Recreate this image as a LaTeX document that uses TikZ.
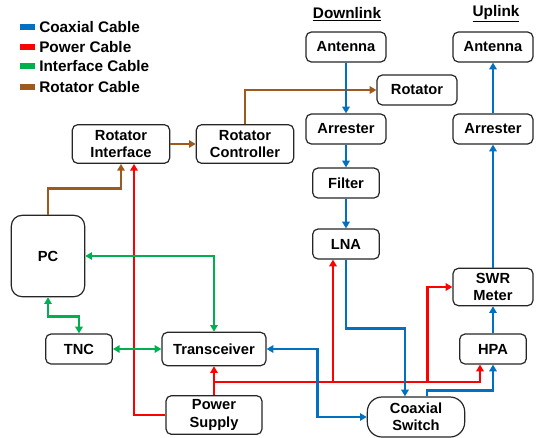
\documentclass[tikz,border=0pt]{standalone}
\usepackage{fontspec}
\setmainfont{Liberation Sans}
\usetikzlibrary{arrows.meta,positioning,calc}
\definecolor{coaxc}{RGB}{0,112,192}
\definecolor{powc}{RGB}{255,0,0}
\definecolor{ifc}{RGB}{0,176,80}
\definecolor{rotc}{RGB}{158,90,30}
\tikzset{
  blk/.style={draw=black!85, line width=0.9pt, rounded corners=4pt, fill=white,
    font=\bfseries\fontsize{11}{13}\selectfont, align=center,
    minimum height=22.5pt, inner sep=2pt},
  cable/.style={line width=1.9pt},
  >={Triangle[length=5pt,width=5.5pt]}
}

\begin{document}
\begin{tikzpicture}[x=0.75pt,y=-0.75pt]
\useasboundingbox (0,0) rectangle (539,437);
% Legend
\foreach \i/\y/\c/\t in {1/27/coaxc/Coaxial Cable,2/47/powc/Power Cable,3/66/ifc/Interface Cable,4/87/rotc/Rotator Cable} {
  \fill[\c] (20,\y-3) rectangle (35,\y+3);
  \node[font=\bfseries\fontsize{11.5}{13}\selectfont, anchor=west, inner sep=0pt] (leg\i) at (39,\y) {\t};
}
% Headings
\node[font=\bfseries\fontsize{11.5}{13}\selectfont] (hdl) at (347,14) {\underline{Downlink}};
\node[font=\bfseries\fontsize{11.5}{13}\selectfont] (hul) at (496,14) {\underline{Uplink}};
% Downlink chain
\node[blk, minimum width=60pt] (dant) at (346,47) {Antenna};
\node[blk, minimum width=60pt] (rot) at (417,90) {Rotator};
\node[blk, minimum width=60pt] (darr) at (346,129) {Arrester};
\node[blk, minimum width=50pt] (filt) at (346,183) {Filter};
\node[blk, minimum width=50pt] (lna) at (346,244) {LNA};
% Uplink chain
\node[blk, minimum width=60pt] (uant) at (493,47) {Antenna};
\node[blk, minimum width=60pt] (uarr) at (493,129) {Arrester};
\node[blk, minimum width=60pt, minimum height=28pt] (swr) at (493,287) {SWR\\Meter};
\node[blk, minimum width=50pt] (hpa) at (493,349) {HPA};
\node[blk, minimum width=73pt, minimum height=30pt, rounded corners=11pt] (csw) at (416,417) {Coaxial\\Switch};
% Station side
\node[blk, minimum width=73pt, minimum height=29pt] (rif) at (121,144) {Rotator\\Interface};
\node[blk, minimum width=73pt, minimum height=29pt] (rctl) at (245,144) {Rotator\\Controller};
\node[blk, minimum width=55pt, minimum height=61pt, rounded corners=8pt] (pc) at (48,256) {PC};
\node[blk, minimum width=50pt] (tnc) at (79,349) {TNC};
\node[blk, minimum width=78pt, minimum height=25pt] (trx) at (214,349) {Transceiver};
\node[blk, minimum width=72pt, minimum height=29pt] (psu) at (214,415) {Power\\Supply};
% Rotator cables
\draw[cable, rotc, ->] (pc.north) -- ++(0,-26) -| (rif.south);
\draw[cable, rotc, ->] (rif.east) -- (rctl.west);
\draw[cable, rotc, ->] (rctl.north) |- (rot.west);
% Power cables
\coordinate (pj) at ($(psu.north)+(0,-13)$);
\coordinate (lnap) at ($(lna.south)+(-13,0)$);
\coordinate (swrp) at ($(swr.west)+(-25,0)$);
\draw[cable, powc, ->] (psu.west) -| ($(rif.south)+(13,0)$);
\draw[cable, powc, ->] (psu.north) -- (trx.south);
\draw[cable, powc, ->] (pj) -| ($(hpa.south)+(-13,0)$);
\draw[cable, powc, ->] (lnap |- pj) -- (lnap);
\draw[cable, powc, ->] (swrp |- pj) -- (swrp) -- (swr.west);
% Interface cables
\draw[cable, ifc, <->] (pc.east) -| (trx.north);
\draw[cable, ifc, <->] (pc.south) -- ++(0,19) -| (tnc.north);
\draw[cable, ifc, <->] (tnc.east) -- (trx.west);
% Coaxial cables
\draw[cable, coaxc, ->] (dant.south) -- (darr.north);
\draw[cable, coaxc, ->] (darr.south) -- (filt.north);
\draw[cable, coaxc, ->] (filt.south) -- (lna.north);
\draw[cable, coaxc, ->] (lna.south) -- ++(0,69) -| ($(csw.north)+(-11,0)$);
\draw[cable, coaxc, <->] (trx.east) -- ++(51,0) |- (csw.west);
\draw[cable, coaxc, ->] ($(csw.north)+(11,0)$) -- ++(0,-6) -| (hpa.south);
\draw[cable, coaxc, ->] (hpa.north) -- (swr.south);
\draw[cable, coaxc, ->] (swr.north) -- (uarr.south);
\draw[cable, coaxc, ->] (uarr.north) -- (uant.south);
\end{tikzpicture}
\end{document}
